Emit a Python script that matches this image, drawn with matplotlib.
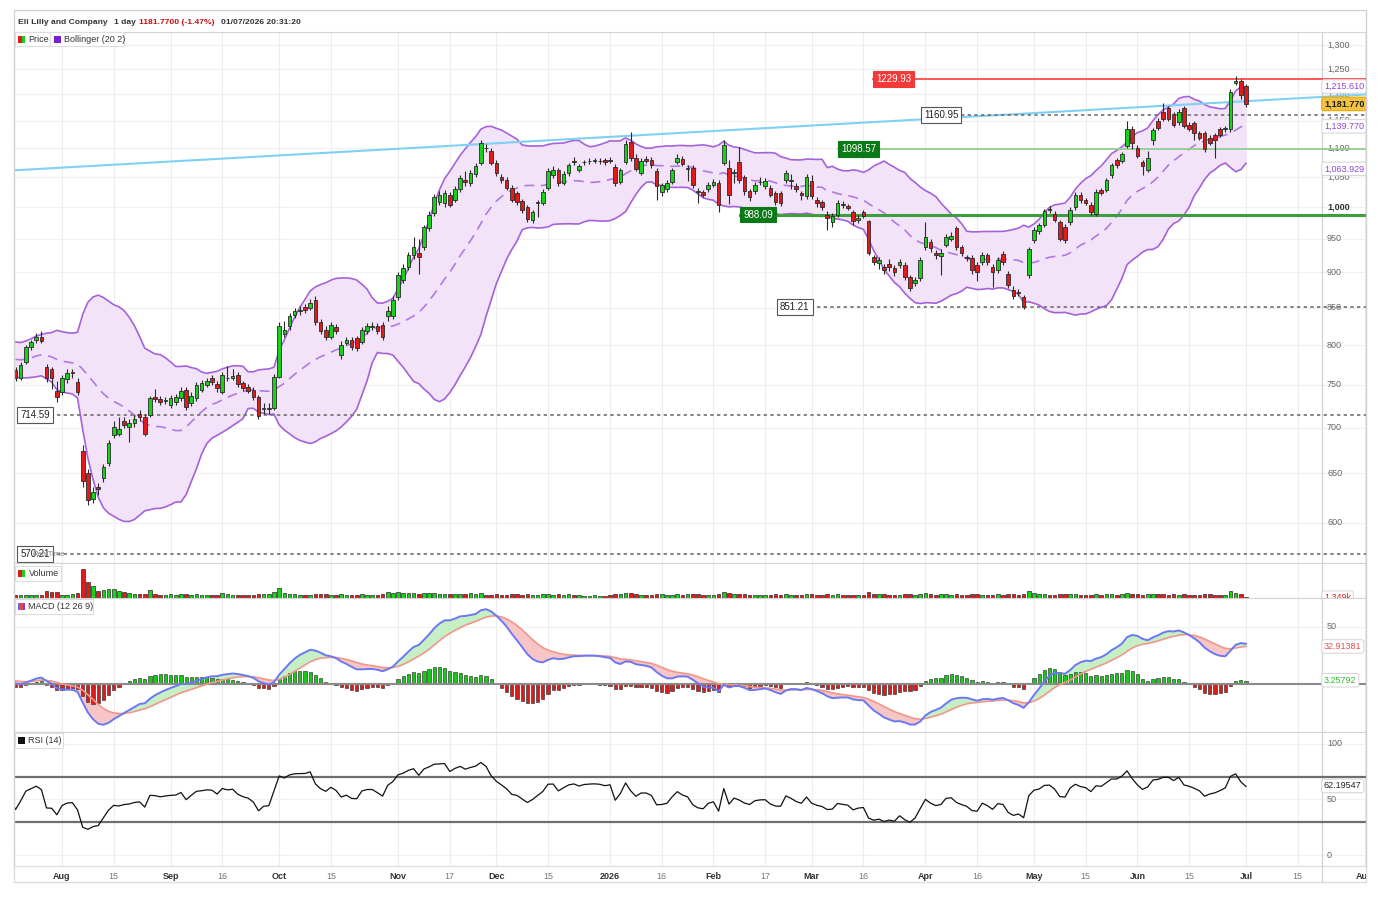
import numpy as np
import pandas as pd
import matplotlib
matplotlib.use("Agg")
import matplotlib.pyplot as plt
from matplotlib.patches import Rectangle
from matplotlib.transforms import Bbox, TransformedBbox

plt.rcParams['font.family'] = ['Liberation Sans', 'DejaVu Sans']

# ---------------- DATA ----------------
holidays = ['2025-09-01', '2025-11-27', '2025-12-25', '2026-01-01', '2026-01-19',
            '2026-02-16', '2026-04-03', '2026-05-25', '2026-06-19']
first_day, last_day = '2025-07-21', '2026-07-01'

# closes before the first visible day (only used to warm up the indicators)
warmup_closes = [742, 748, 745, 752, 758, 755, 762, 768, 764, 770, 776, 772, 779, 785, 781,
                 776, 783, 790, 786, 780, 774, 781, 788, 794, 790,
                 795, 788, 780, 770, 766, 772, 780, 790, 798, 800, 792, 785, 776, 768, 774,
                 783, 790, 796, 788, 780]

opens = [
    768, 759, 778, 797, 806, 811, 772, 770, 743,
    742, 757, 764, 753, 674, 650, 624, 636, 645, 661, 692, 693, 707, 701, 705, 715, 712, 714, 735, 733, 731,
    726, 729, 734, 744, 728, 734, 744, 750, 758, 751, 742, 758, 759, 762, 752, 747, 744, 735, 721, 721, 722,
    760, 814, 825, 840, 845, 851, 850, 861, 830, 820, 811, 823, 787, 803, 806, 809, 804, 818, 824, 825, 826, 838, 838,
    864, 889, 907, 925, 928, 937, 966, 990, 1008, 1007, 1020, 1012, 1029, 1045, 1040, 1055, 1074, 1101, 1095,
    1074, 1050, 1045, 1032, 1023, 1010, 1000, 979, 1006, 1007, 1032, 1053, 1062, 1040, 1057, 1077, 1062, 1075, 1077, 1078, 1077, 1079,
    1080, 1067, 1042, 1076, 1112, 1083, 1057, 1081, 1080, 1061, 1024, 1029, 1042, 1076, 1081, 1064, 1065, 1027, 1024, 1029,
    1037, 1040, 1074, 1065, 1056, 1076, 1050, 1026, 1026, 1041, 1034, 1032, 1023, 1023, 1045, 1044, 1035, 1023, 1018,
    1043, 1012, 1008, 988, 976, 988, 1005, 1001, 992, 979, 992, 977, 922, 914, 908, 912, 906, 911, 911, 893, 885, 892,
    937, 945, 929, 924, 941, 950, 966, 937, 922, 921, 911, 915, 925, 908, 903, 927, 898, 875, 872, 865, 896,
    948, 962, 972, 997, 989, 976, 969, 976, 1000, 1020, 1011, 1004, 989, 1028, 1028, 1053, 1079, 1078, 1104, 1135,
    1100, 1076, 1062, 1115, 1150, 1166, 1174, 1162, 1147, 1174, 1143, 1145, 1127, 1127, 1119, 1123, 1135, 1134, 1135, 1223, 1227,
    1217]
highs = [
    772, 778, 800, 807, 816, 818, 776, 772, 755,
    762, 770, 770, 758, 680, 655, 636, 640, 660, 686, 708, 712, 712, 710, 714, 720, 716, 737, 745, 737, 736,
    738, 739, 747, 747, 741, 753, 756, 759, 762, 755, 766, 773, 770, 766, 755, 751, 747, 738, 728, 728, 763,
    830, 832, 843, 850, 852, 855, 862, 866, 834, 825, 830, 828, 805, 810, 810, 812, 823, 829, 830, 829, 830, 852, 866,
    900, 912, 930, 953, 950, 972, 994, 1022, 1026, 1028, 1025, 1035, 1054, 1060, 1062, 1074, 1114, 1108, 1100,
    1080, 1055, 1050, 1036, 1027, 1014, 1004, 996, 1012, 1030, 1065, 1068, 1066, 1060, 1074, 1085, 1073, 1080, 1082, 1083, 1082, 1083,
    1084, 1072, 1066, 1114, 1130, 1090, 1082, 1086, 1085, 1065, 1040, 1045, 1066, 1090, 1086, 1070, 1070, 1032, 1028, 1042,
    1047, 1045, 1114, 1080, 1064, 1102, 1054, 1030, 1041, 1050, 1048, 1036, 1027, 1027, 1062, 1055, 1040, 1027, 1055,
    1053, 1016, 1012, 993, 990, 1012, 1010, 1005, 996, 988, 996, 980, 926, 922, 912, 920, 910, 919, 915, 896, 893, 922,
    976, 950, 933, 935, 957, 960, 970, 941, 926, 925, 915, 930, 929, 912, 922, 931, 902, 880, 876, 868, 938,
    968, 975, 997, 1001, 993, 980, 973, 1000, 1024, 1024, 1015, 1008, 1029, 1032, 1049, 1074, 1083, 1094, 1149, 1140,
    1105, 1080, 1095, 1136, 1155, 1183, 1178, 1166, 1172, 1178, 1147, 1149, 1131, 1131, 1123, 1127, 1139, 1140, 1210, 1236, 1231,
    1221]
lows = [
    755, 756, 776, 794, 803, 802, 753, 745, 730,
    738, 752, 758, 738, 636, 618, 620, 628, 641, 658, 688, 690, 699, 684, 701, 708, 690, 712, 729, 726, 727,
    722, 726, 731, 720, 725, 731, 741, 747, 750, 742, 739, 755, 756, 748, 743, 740, 732, 710, 716, 716, 720,
    758, 810, 820, 836, 840, 843, 846, 826, 814, 807, 808, 814, 782, 800, 794, 792, 801, 815, 820, 814, 806, 832, 835,
    860, 885, 903, 920, 897, 933, 962, 986, 1004, 1000, 1000, 1008, 1025, 1035, 1035, 1050, 1070, 1094, 1070,
    1052, 1040, 1028, 1008, 1003, 990, 976, 975, 984, 1003, 1028, 1049, 1035, 1036, 1052, 1070, 1058, 1071, 1073, 1074, 1073, 1071,
    1074, 1034, 1038, 1072, 1078, 1060, 1053, 1074, 1066, 1012, 1018, 1025, 1038, 1072, 1068, 1044, 1032, 1007, 1016, 1025,
    1033, 992, 1070, 1005, 1040, 1040, 1020, 1010, 1022, 1036, 1030, 1016, 1004, 1002, 1040, 1030, 1025, 1012, 1014,
    1014, 1000, 995, 964, 968, 984, 998, 995, 972, 975, 982, 925, 910, 905, 898, 902, 895, 906, 889, 873, 880, 888,
    933, 930, 920, 896, 937, 946, 933, 924, 916, 898, 887, 911, 911, 879, 899, 911, 877, 862, 866, 848, 892,
    944, 958, 968, 991, 976, 946, 944, 972, 996, 1007, 1003, 988, 985, 1019, 1024, 1049, 1066, 1074, 1100, 1098,
    1082, 1053, 1058, 1105, 1133, 1150, 1150, 1139, 1143, 1136, 1131, 1115, 1115, 1094, 1105, 1083, 1120, 1130, 1130, 1218, 1192,
    1175]
closes = [
    758, 774, 797, 804, 811, 805, 759, 758, 735,
    758, 765, 766, 742, 642, 623, 631, 634, 657, 683, 701, 698, 703, 705, 710, 712, 693, 734, 733, 729, 732,
    734, 735, 743, 724, 737, 750, 752, 755, 754, 746, 762, 759, 761, 751, 746, 743, 735, 713, 722, 723, 760,
    825, 820, 838, 845, 846, 847, 856, 830, 818, 811, 826, 818, 800, 806, 797, 796, 820, 825, 825, 818, 810, 845, 861,
    896, 906, 925, 937, 922, 968, 988, 1016, 1020, 1023, 1004, 1030, 1049, 1042, 1057, 1069, 1110, 1100, 1074,
    1057, 1045, 1032, 1012, 1008, 995, 981, 992, 1008, 1025, 1061, 1062, 1040, 1055, 1070, 1075, 1069, 1076, 1078, 1079, 1078, 1075,
    1078, 1040, 1062, 1108, 1083, 1064, 1078, 1078, 1070, 1035, 1036, 1040, 1062, 1083, 1072, 1066, 1037, 1024, 1020, 1037,
    1042, 1004, 1106, 1020, 1058, 1045, 1026, 1016, 1037, 1042, 1043, 1020, 1008, 1007, 1057, 1045, 1029, 1020, 1050,
    1018, 1007, 1000, 983, 985, 1007, 1003, 999, 977, 983, 985, 929, 915, 918, 903, 907, 900, 915, 893, 877, 889, 918,
    953, 936, 925, 929, 953, 955, 937, 928, 921, 903, 900, 925, 915, 900, 918, 915, 881, 866, 870, 851, 934,
    964, 971, 993, 995, 980, 950, 948, 996, 1020, 1011, 1007, 992, 1025, 1023, 1045, 1070, 1070, 1090, 1135, 1109,
    1086, 1068, 1083, 1132, 1137, 1154, 1154, 1143, 1166, 1140, 1135, 1128, 1119, 1099, 1109, 1114, 1124, 1136, 1205, 1226, 1199.4,
    1181.77]
volumes = [  # millions
    2.8, 2.6, 3.0, 2.7, 2.6, 2.8, 7.0, 6.0, 6.5,
    3.5, 3.5, 4.0, 5.0, 29.0, 16.0, 12.0, 7.5, 8.5, 9.5, 9.5, 7.5, 6.0, 5.0, 4.5, 4.0, 4.0, 8.0, 4.0, 3.5, 3.5,
    4.5, 3.5, 3.8, 4.2, 3.2, 4.0, 3.5, 3.3, 3.4, 3.2, 4.8, 3.6, 3.3, 3.5, 3.2, 3.0, 3.4, 4.2, 3.6, 3.8, 6.5,
    10.0, 5.0, 4.5, 3.8, 3.0, 3.2, 3.4, 4.5, 3.8, 3.6, 3.4, 3.2, 4.0, 3.5, 3.2, 3.4, 3.6, 3.3, 3.0, 3.4, 3.6, 6.5, 5.5,
    6.0, 5.0, 4.8, 5.2, 4.5, 5.5, 5.0, 5.5, 4.2, 4.0, 4.2, 4.0, 4.5, 4.2, 4.6, 3.8, 5.5, 3.0, 2.6,
    3.8, 3.4, 3.2, 4.0, 3.6, 3.5, 3.8, 3.4, 3.2, 3.6, 4.2, 3.4, 3.6, 3.5, 4.5, 3.2, 2.8, 2.0, 2.2, 2.6, 2.5, 2.4,
    2.8, 4.0, 3.6, 4.8, 4.6, 3.8, 3.4, 3.0, 3.2, 3.8, 3.6, 3.4, 3.2, 4.0, 3.3, 3.6, 4.2, 3.8, 3.4, 3.2,
    3.0, 4.5, 6.5, 5.5, 3.8, 4.2, 3.8, 3.4, 3.2, 3.0, 3.2, 3.4, 3.6, 3.3, 3.8, 3.2, 3.0, 3.0, 3.8,
    3.8, 3.4, 3.2, 3.6, 3.4, 3.6, 3.0, 3.0, 3.3, 3.1, 3.2, 6.0, 4.5, 3.6, 3.8, 3.4, 3.3, 3.2, 3.8, 4.0, 3.4, 4.5,
    5.0, 3.6, 3.3, 3.8, 3.6, 3.2, 4.0, 3.5, 3.2, 3.8, 3.6, 3.4, 3.0, 3.4, 3.8, 3.2, 4.0, 3.6, 3.4, 4.2, 7.0,
    5.5, 3.8, 4.2, 3.4, 3.2, 4.0, 3.8, 4.0, 3.8, 3.2, 3.0, 3.4, 4.2, 3.2, 3.6, 4.0, 3.4, 3.6, 5.5, 4.0,
    3.6, 3.4, 3.8, 4.5, 3.6, 3.8, 3.4, 3.6, 3.2, 4.0, 3.2, 3.4, 3.2, 4.0, 3.6, 3.2, 3.4, 3.0, 7.5, 5.0, 3.8,
    1.35]

tick_dates = ['2025-08-01', '2025-08-15', '2025-09-02', '2025-09-16', '2025-10-01', '2025-10-15',
              '2025-11-03', '2025-11-17', '2025-12-01', '2025-12-15', '2026-01-02', '2026-01-16',
              '2026-02-02', '2026-02-17', '2026-03-02', '2026-03-16', '2026-04-01', '2026-04-16',
              '2026-05-01', '2026-05-15', '2026-06-01', '2026-06-15', '2026-07-01', '2026-07-15',
              '2026-08-03']
tick_labels = ['Aug', '15', 'Sep', '16', 'Oct', '15', 'Nov', '17', 'Dec', '15', '2026', '16',
               'Feb', '17', 'Mar', '16', 'Apr', '16', 'May', '15', 'Jun', '15', 'Jul', '15', 'Aug']
price_ticks = [600, 650, 700, 750, 800, 850, 900, 950, 1000, 1050, 1100, 1150, 1200, 1250, 1300]

levels = [1229.93, 1160.95, 1098.57, 988.09, 851.21, 714.59, 570.21]
trend_anchor_idx = [0, 238]
trend_anchor_price = [1061.5, 1187.0]

last_upper, last_mid, last_lower, last_price = 1215.610, 1139.770, 1063.929, 1181.770
last_signal, last_hist, last_rsi = 32.91381, 3.25792, 62.19547
header_name, header_period = 'Eli Lilly and Company', '1 day'
header_quote, header_time = '1181.7700 (-1.47%)', '01/07/2026 20:31:20'
volume_label = '1.349k'

# ---------------- DATES / INDEX ----------------
dates = pd.bdate_range(first_day, last_day, freq='C', holidays=holidays)
future = pd.bdate_range('2026-07-02', '2026-08-31')
all_dates = list(dates) + list(future)
pos = {d.strftime('%Y-%m-%d'): i for i, d in enumerate(all_dates)}
n = len(closes)
idx = np.arange(n)

o = np.array(opens, float); h = np.array(highs, float)
l = np.array(lows, float); c = np.array(closes, float)
v = np.array(volumes, float)

# indicators
s = pd.Series(list(warmup_closes) + list(closes), dtype=float)
x_all = np.arange(-len(warmup_closes), n)
mid = s.rolling(20).mean()
sd = s.rolling(20).std(ddof=0)
upper, lower = mid + 2 * sd, mid - 2 * sd
ema12 = s.ewm(span=12, adjust=False).mean()
ema26 = s.ewm(span=26, adjust=False).mean()
macd = ema12 - ema26
sig = macd.ewm(span=9, adjust=False).mean()
hist = macd - sig
d = s.diff()
ag = d.clip(lower=0).ewm(alpha=1 / 14, adjust=False).mean()
al = (-d.clip(upper=0)).ewm(alpha=1 / 14, adjust=False).mean()
rsi = 100 - 100 / (1 + ag / al)

# ---------------- LAYOUT ----------------
W, H = 1384, 898
X0, X1 = 14, 1366
SEP = 1322
PX0, PSTEP = 15.5, 5.17


def xi(px):
    return (px - PX0) / PSTEP


def fx(px):
    return px / W


def fy(py):
    return 1 - py / H


fig = plt.figure(figsize=(W / 100, H / 100), dpi=100)
fig.patch.set_facecolor('white')


def add_ax(top, bottom):
    ax = fig.add_axes([fx(X0), fy(bottom), (X1 - X0) / W, (bottom - top) / H])
    ax.set_xlim(xi(X0), xi(X1))
    for sp in ax.spines.values():
        sp.set_color('#d4d4d4')
        sp.set_linewidth(0.8)
    ax.tick_params(left=False, right=False, bottom=False, top=False,
                   labelleft=False, labelbottom=False)
    return ax


ax_p = add_ax(32, 563)
ax_v = add_ax(563, 598)
ax_m = add_ax(598, 732)
ax_r = add_ax(732, 866)

tick_idx = [pos[t] for t in tick_dates]
for ax in (ax_p, ax_v, ax_m, ax_r):
    for t in tick_idx:
        ax.axvline(t, color='#ededed', lw=0.8, zorder=0)
    ax.axvline(xi(SEP), color='#d0d0d0', lw=0.9, zorder=0.5)

yt = lambda ax: ax.get_yaxis_transform()
LBLX = (1327 - X0) / (X1 - X0)
VALX = (1324 - X0) / (X1 - X0)
purple = '#8e44d6'

# ---------------- PRICE PANEL ----------------
ax_p.set_yscale('log')
ax_p.set_ylim(562.2, 1327.6)
ax_p.yaxis.set_major_locator(matplotlib.ticker.NullLocator())
ax_p.yaxis.set_minor_locator(matplotlib.ticker.NullLocator())
for p in price_ticks:
    ax_p.axhline(p, color='#f0f0f0', lw=0.8, zorder=0)
    ax_p.text(LBLX, p, f'{p:,}', transform=yt(ax_p), fontsize=6.5,
              color='#333' if p == 1000 else '#666', fontweight='bold' if p == 1000 else 'normal',
              va='center', ha='left', zorder=2)

# Bollinger
ax_p.fill_between(x_all, lower, upper, color='#f2e3f9', lw=0, zorder=1)
ax_p.plot(x_all, upper, color='#a463da', lw=1.2, zorder=2)
ax_p.plot(x_all, lower, color='#a463da', lw=1.2, zorder=2)
ax_p.plot(x_all, mid, color='#b07ae0', lw=1.2, dashes=(6, 4), zorder=2)

# trend line (straight on log axis)
k = (np.log(trend_anchor_price[1]) - np.log(trend_anchor_price[0])) / (trend_anchor_idx[1] - trend_anchor_idx[0])
tx = np.array([xi(X0), xi(X1)])
ty = np.exp(np.log(trend_anchor_price[0]) + k * (tx - trend_anchor_idx[0]))
ax_p.plot(tx, ty, color='#7fd0f5', lw=1.5, zorder=3)

# horizontal levels
lvl_style = [
    dict(color='#ff4a4a', lw=1.3, ls='-', fc='#f23a3a', tc='white', ec='#f23a3a', px=873),
    dict(color='#707070', lw=1.2, ls=(0, (2, 2)), fc='white', tc='#222', ec='#555', px=921),
    dict(color='#8fcf8f', lw=1.3, ls='-', fc='#0b7a16', tc='white', ec='#0b7a16', px=838),
    dict(color='#3c9e3c', lw=2.2, ls='-', fc='#0b7a16', tc='white', ec='#0b7a16', px=740),
    dict(color='#707070', lw=1.2, ls=(0, (2, 2)), fc='white', tc='#222', ec='#555', px=777),
    dict(color='#707070', lw=1.2, ls=(0, (2, 2)), fc='white', tc='#222', ec='#555', px=17),
    dict(color='#707070', lw=1.2, ls=(0, (2, 2)), fc='white', tc='#222', ec='#555', px=17),
]
for val, st in zip(levels, lvl_style):
    x_start = xi(st['px'])
    ax_p.plot([x_start, xi(X1)], [val, val], color=st['color'], lw=st['lw'], ls=st['ls'], zorder=3)
    ax_p.text(x_start + 0.6, val, f'{val:.2f}', fontsize=7, color=st['tc'], va='center', ha='left',
              zorder=6, bbox=dict(boxstyle='square,pad=0.3', fc=st['fc'], ec=st['ec'], lw=0.8))
ax_p.text(xi(32), 570.21, 'RealTime', fontsize=5.5, color='#888', va='center', ha='left', zorder=7)

# candles
up = c >= o
col = np.where(up, '#19d119', '#e31a1a')
ax_p.vlines(idx, l, h, color='#2a2a2a', lw=0.8, zorder=4)
body = np.maximum(np.abs(c - o), 0.6)
ax_p.bar(idx, body, bottom=np.minimum(o, c), width=0.7, color=col, edgecolor='#2a2a2a',
         linewidth=0.6, zorder=5)


# right value boxes
def vbox(ax, y, txt, color, fc='white', ec='#d8d8d8', bold=False, **kw):
    return ax.text(VALX, y, txt, transform=yt(ax), fontsize=6.5, color=color, va='center', ha='left',
                   fontweight='bold' if bold else 'normal', zorder=8,
                   bbox=dict(boxstyle='round,pad=0.25', fc=fc, ec=ec, lw=0.8), **kw)


vbox(ax_p, last_upper, f'{last_upper:,.3f}', purple)
vbox(ax_p, last_lower, f'{last_lower:,.3f}', purple)
vbox(ax_p, last_mid, f'{last_mid:,.3f}', purple)
vbox(ax_p, last_price, f'{last_price:,.3f}', '#222', fc='#f7c240', ec='#e8a800', bold=True)

# ---------------- VOLUME ----------------
ax_v.set_ylim(0, 35)
ax_v.set_yticks([])
ax_v.bar(idx, v, width=0.7, color=col, edgecolor='#2a2a2a', linewidth=0.5, zorder=3)
vbox(ax_v, 0.3, volume_label, '#e02020', clip_on=True)

# ---------------- MACD ----------------
ax_m.set_ylim(-42.1, 75.4)
ax_m.set_yticks([])
ax_m.axhline(50, color='#f0f0f0', lw=0.8, zorder=0)
ax_m.text(LBLX, 50, '50', transform=yt(ax_m), fontsize=6.5, color='#666', va='center')
mv, sv = macd.values, sig.values
ax_m.fill_between(x_all, mv, sv, where=mv >= sv, interpolate=True, color='#c6efc6', lw=0, zorder=1)
ax_m.fill_between(x_all, mv, sv, where=mv < sv, interpolate=True, color='#f7c5c5', lw=0, zorder=1)
hv = hist.values[len(warmup_closes):]
ax_m.bar(idx, hv, width=0.62, color=np.where(hv >= 0, '#19c919', '#d91c1c'),
         edgecolor='#333', linewidth=0.45, zorder=2)
ax_m.axhline(0, color='#8a8a8a', lw=1.5, zorder=2.5)
ax_m.plot(x_all, sv, color='#f0978a', lw=1.2, zorder=3)
ax_m.plot(x_all, mv, color='#6b78f2', lw=1.4, zorder=4)
vbox(ax_m, last_signal, f'{last_signal:.5f}', '#e25050')
vbox(ax_m, last_hist, f'{last_hist:.5f}', '#2fbf2f')

# ---------------- RSI ----------------
ax_r.set_ylim(-9.9, 110.8)
ax_r.set_yticks([])
for yv in (100, 50, 0):
    ax_r.axhline(yv, color='#f0f0f0', lw=0.8, zorder=0)
    ax_r.text(LBLX, yv, str(yv), transform=yt(ax_r), fontsize=6.5, color='#666', va='center')
ax_r.axhline(70, color='#6e6e6e', lw=1.6, zorder=2)
ax_r.axhline(30, color='#6e6e6e', lw=1.6, zorder=2)
ax_r.plot(x_all, rsi.values, color='#111', lw=0.9, zorder=3)
vbox(ax_r, last_rsi, f'{last_rsi:.5f}', '#222')

# x tick labels (clipped to the chart frame like the reference)
ax_r.set_xticks(tick_idx)
ax_r.set_xticklabels(tick_labels)
ax_r.tick_params(axis='x', labelbottom=True, length=0, pad=4, labelsize=6.5)
clip_bb = TransformedBbox(Bbox([[fx(X0), fy(884)], [fx(X1), fy(866)]]), fig.transFigure)
for lab in ax_r.get_xticklabels():
    if lab.get_text().isdigit() and len(lab.get_text()) < 4:
        lab.set_color('#777')
    else:
        lab.set_color('#333')
        lab.set_fontweight('bold')
    lab.set_clip_on(True)
    lab.set_clip_box(clip_bb)


# ---------------- FRAME / HEADER / LEGENDS ----------------
def frect(x0, y0, x1, y1, **kw):
    fig.add_artist(Rectangle((fx(x0), fy(y1)), (x1 - x0) / W, (y1 - y0) / H,
                             transform=fig.transFigure, **kw))


frect(X0, 10, X1, 882, fill=False, ec='#d0d0d0', lw=0.9)
frect(X0, 866, X1, 882, fill=False, ec='#dedede', lw=0.8)
fig.add_artist(plt.Line2D([fx(SEP), fx(SEP)], [fy(866), fy(882)], transform=fig.transFigure,
                          color='#d0d0d0', lw=0.8))

HFS = 6.1
fig.text(fx(18), fy(22), header_name, fontsize=HFS, fontweight='bold', color='#333', va='center')
fig.text(fx(114), fy(22), header_period, fontsize=HFS, fontweight='bold', color='#333', va='center')
fig.text(fx(139), fy(22), header_quote, fontsize=HFS, fontweight='bold', color='#c21010', va='center')
fig.text(fx(221), fy(22), header_time, fontsize=HFS, fontweight='bold', color='#333', va='center')


def legend_box(x0, y0, x1, y1):
    frect(x0, y0, x1, y1, fc='white', ec='#dddddd', lw=0.8, zorder=10)


def icon_split(x, y, c1, c2):
    frect(x, y, x + 3.5, y + 7, fc=c1, ec='none', zorder=11)
    frect(x + 3.5, y, x + 7, y + 7, fc=c2, ec='none', zorder=11)


# price legend
legend_box(X0 + 1, 32, 50, 46)
icon_split(18, 35.5, '#e31a1a', '#19d119')
fig.text(fx(28.5), fy(39.5), 'Price', fontsize=6.5, color='#333', va='center', zorder=12)
legend_box(50, 32, 124, 46)
frect(54, 35.5, 61, 42.5, fc='#7a1fd0', ec='none', zorder=11)
fig.text(fx(64.5), fy(39.5), 'Bollinger (20 2)', fontsize=6.5, color='#333', va='center', zorder=12)
# volume legend
legend_box(X0 + 1, 566, 61, 581)
icon_split(18, 570, '#e31a1a', '#19d119')
fig.text(fx(28.5), fy(574), 'Volume', fontsize=6.5, color='#333', va='center', zorder=12)
# macd legend
legend_box(X0 + 1, 599, 93, 614)
frect(18, 603, 20.4, 610, fc='#5b6cf0', ec='none', zorder=11)
frect(20.4, 603, 22.7, 610, fc='#e04a4a', ec='none', zorder=11)
frect(22.7, 603, 25, 610, fc='#8a3cd0', ec='none', zorder=11)
fig.text(fx(28.5), fy(606.5), 'MACD (12 26 9)', fontsize=6.5, color='#333', va='center', zorder=12)
# rsi legend
legend_box(X0 + 1, 733, 63, 748)
frect(18, 737, 25, 744, fc='#111', ec='none', zorder=11)
fig.text(fx(28.5), fy(740.5), 'RSI (14)', fontsize=6.5, color='#333', va='center', zorder=12)

fig.savefig('out.png', dpi=100, facecolor='white')
